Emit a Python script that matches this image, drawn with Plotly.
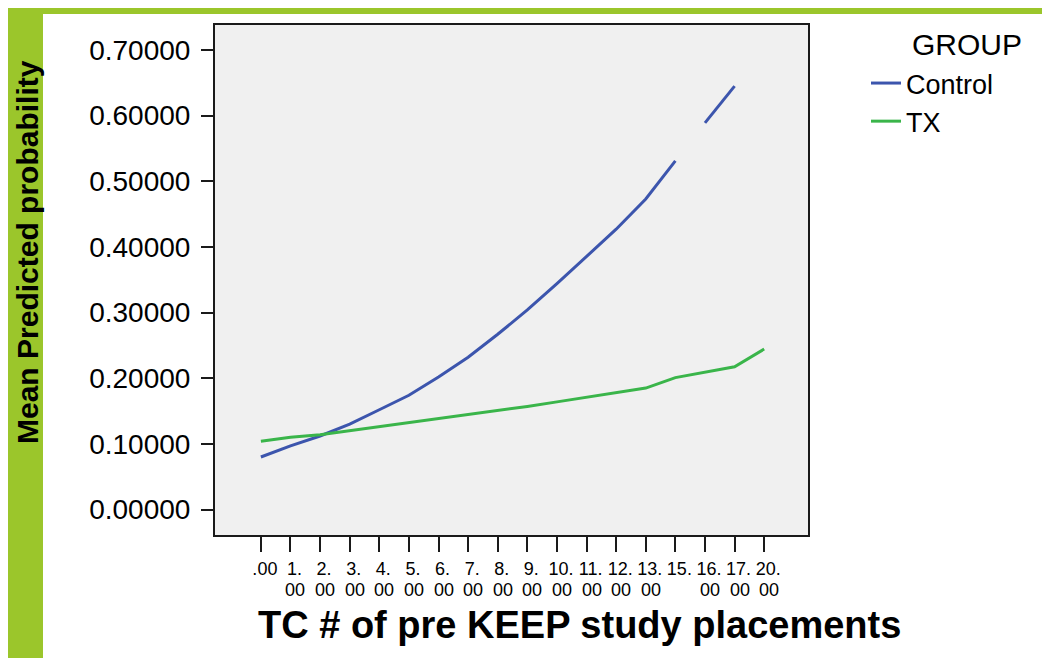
import plotly.graph_objects as go

# categories on the x axis (TC # of pre KEEP study placements)
categorias = ['.00', '1.00', '2.00', '3.00', '4.00', '5.00', '6.00', '7.00', '8.00',
              '9.00', '10.00', '11.00', '12.00', '13.00', '15.00', '16.00', '17.00', '20.00']

# mean predicted probability per group
control = [0.080, 0.097, 0.112, 0.130, 0.152, 0.174, 0.202, 0.232, 0.267,
           0.304, 0.344, 0.385, 0.427, 0.473, 0.531]
control_cat = categorias[:15]
control_fim = [0.589, 0.645]
control_fim_cat = ['16.00', '17.00']

tx = [0.104, 0.110, 0.114, 0.120, 0.126, 0.132, 0.138, 0.144, 0.151,
      0.157, 0.164, 0.171, 0.178, 0.185, 0.201, 0.209, 0.2175, 0.2445]

yticks = [0.0, 0.1, 0.2, 0.3, 0.4, 0.5, 0.6, 0.7]

# labels wrap in two rows: "1." over "00"
linha1 = [c if c == '.00' else c.split('.')[0] + '.' for c in categorias]
linha2 = ['' if c == '.00' else c.split('.')[1] for c in categorias]

# page has an 8px body margin, so the figure is a bit smaller
OFF = 8
W, H = 1042, 650
ML, MR, MT, MB = 207, 242, 17, 123
PW, PH = W - ML - MR, H - MT - MB


def px(x):
    return (x - OFF - ML) / PW


def py(y):
    return (H - MB - (y - OFF)) / PH


azul = '#3c55ad'
verde = '#3ab54a'
fonte = 'Liberation Sans, Arial, sans-serif'

fig = go.Figure()
fig.add_trace(go.Scatter(x=control_cat, y=control, mode='lines', name='Control',
                         line=dict(color=azul, width=3)))
fig.add_trace(go.Scatter(x=control_fim_cat, y=control_fim, mode='lines', name='Control',
                         line=dict(color=azul, width=3), showlegend=False))
fig.add_trace(go.Scatter(x=categorias, y=tx, mode='lines', name='TX',
                         line=dict(color=verde, width=3)))

fig.update_layout(
    width=W, height=H,
    margin=dict(l=ML, r=MR, t=MT, b=MB),
    paper_bgcolor='white',
    plot_bgcolor='#f0f0f0',
    font=dict(family=fonte, color='black'),
    showlegend=True,
    legend=dict(x=px(866), y=py(59), xanchor='left', yanchor='top', tracegroupgap=0,
                font=dict(size=27, family=fonte), bgcolor='rgba(0,0,0,0)'),
    xaxis=dict(type='category', categoryorder='array', categoryarray=categorias,
               tickmode='array', tickvals=categorias, ticktext=linha1,
               range=[-1.55, 18.48], showgrid=False, zeroline=False,
               showline=True, mirror=True, linecolor='#1a1a1a', linewidth=2,
               ticks='outside', ticklen=15, tickwidth=2, tickcolor='#1a1a1a',
               ticklabelstandoff=1, ticklabelshift=4, tickfont=dict(size=18), tickangle=0),
    yaxis=dict(range=[-0.0388, 0.7381], tickvals=yticks, tickformat='.5f',
               showgrid=False, zeroline=False,
               showline=True, mirror=True, linecolor='#1a1a1a', linewidth=2,
               ticks='outside', ticklen=12, tickwidth=2, tickcolor='#1a1a1a',
               ticklabelstandoff=5, tickfont=dict(size=28)),
)

# second row of the wrapped tick labels
for c, t in zip(categorias, linha2):
    if t:
        fig.add_annotation(text=t, x=c, xref='x', yref='paper', y=py(590), xshift=5,
                           xanchor='center', yanchor='middle', showarrow=False,
                           font=dict(size=18, family=fonte))

# green frame of the slide
fig.add_shape(type='rect', xref='paper', yref='paper', x0=px(0), x1=px(43), y0=py(H + 20), y1=py(0),
              fillcolor='#9bc62b', line_width=0, layer='below')
fig.add_shape(type='rect', xref='paper', yref='paper', x0=px(0), x1=px(W + 20), y0=py(14), y1=py(0),
              fillcolor='#9bc62b', line_width=0, layer='below')

fig.add_annotation(text='<b>TC # of pre KEEP study placements</b>', xref='paper', yref='paper',
                   x=px(579), y=py(625), xanchor='center', yanchor='middle', showarrow=False,
                   font=dict(size=38, family=fonte))
fig.add_annotation(text='<b>Mean Predicted probability</b>', xref='paper', yref='paper',
                   x=px(27), y=py(252), xanchor='center', yanchor='middle', textangle=-90,
                   showarrow=False, font=dict(size=30, family=fonte))
fig.add_annotation(text='GROUP', xref='paper', yref='paper', x=px(910), y=py(45),
                   xanchor='left', yanchor='middle', showarrow=False,
                   font=dict(size=30, family=fonte))

fig.write_html("out.html")
